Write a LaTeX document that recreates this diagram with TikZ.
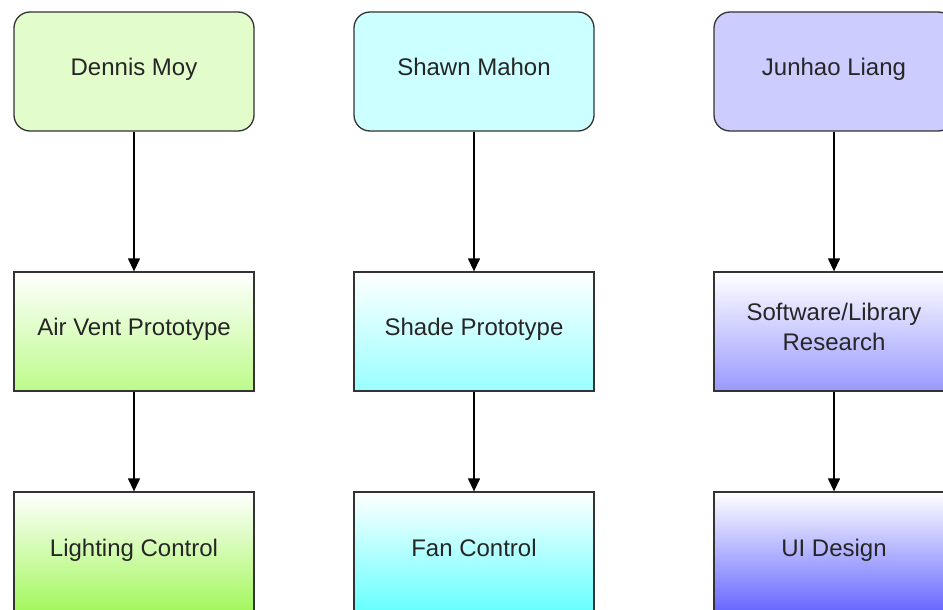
\documentclass[tikz,border=0pt]{standalone}
\usepackage{fontspec}
\setmainfont{Liberation Sans}
\usetikzlibrary{arrows.meta}
\definecolor{pgreen}{HTML}{E2FCCB}
\definecolor{pcyan}{HTML}{CCFFFF}
\definecolor{pblue}{HTML}{CCCCFF}
\definecolor{mgreen}{HTML}{BDFB8A}
\definecolor{mcyan}{HTML}{99FFFF}
\definecolor{mblue}{HTML}{9999FF}
\definecolor{bgreen}{HTML}{A3F75C}
\definecolor{bcyan}{HTML}{66FFFF}
\definecolor{bblue}{HTML}{6666FF}
\begin{document}
\begin{tikzpicture}[x=1pt,y=-1pt,
  box/.style={draw=black!80, line width=1.3pt, minimum width=240pt, inner sep=0pt,
    font=\fontsize{24}{30}\selectfont, align=center, text=black!85,
    text height=17.2pt, text depth=9pt},
  twoline/.style={text height=47.2pt},
  person/.style={box, rounded corners=16pt, minimum height=119pt},
  task/.style={box, minimum height=119pt, top color=white},
  last/.style={box, minimum height=120pt, top color=white},
  conn/.style={draw=black, line width=1.3pt, -{Triangle[length=13pt,width=12pt]}}]
\useasboundingbox (0,0) rectangle (943,610);
\clip (0,0) rectangle (943,610);
\fill[white] (0,0) rectangle (943,610);
% persons
\node[person, fill=pgreen] (p1) at (134,71.5) {Dennis Moy};
\node[person, fill=pcyan]  (p2) at (474,71.5) {Shawn Mahon};
\node[person, fill=pblue]  (p3) at (834,71.5) {Junhao Liang};
% middle tasks
\node[task, bottom color=mgreen] (m1) at (134,331.5) {Air Vent Prototype};
\node[task, bottom color=mcyan]  (m2) at (474,331.5) {Shade Prototype};
\node[task, twoline, bottom color=mblue]  (m3) at (834,331.5) {Software/Library\\Research};
% bottom tasks
\node[last, bottom color=bgreen] (b1) at (134,552) {Lighting Control};
\node[last, bottom color=bcyan]  (b2) at (474,552) {Fan Control};
\node[last, bottom color=bblue]  (b3) at (834,552) {UI Design};
% connectors
\foreach \a/\b in {p1/m1,p2/m2,p3/m3,m1/b1,m2/b2,m3/b3}
  \draw[conn] (\a.south) -- (\b.north);
\end{tikzpicture}
\end{document}
